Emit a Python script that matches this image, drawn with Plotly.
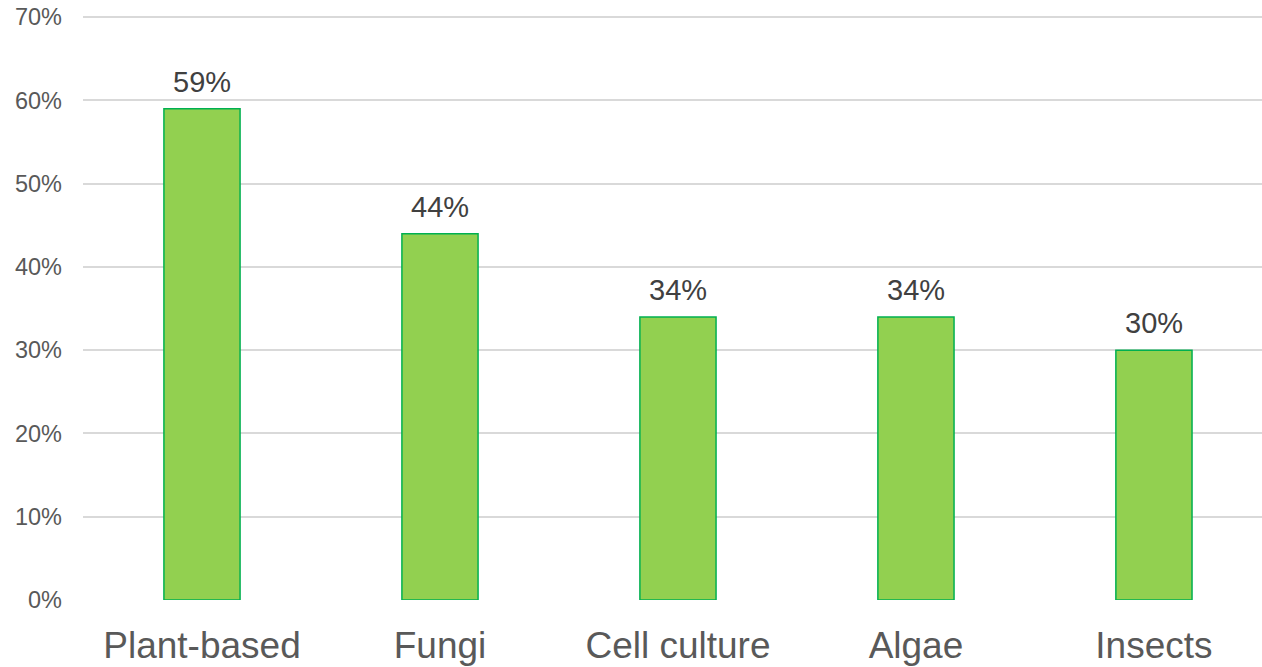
import plotly.graph_objects as go

# Share of respondents interested in each alternative protein source
categories = ["Plant-based", "Fungi", "Cell culture", "Algae", "Insects"]
shares = [59, 44, 34, 34, 30]
y_ticks = [0, 10, 20, 30, 40, 50, 60, 70]
y_tick_labels = [f"{v}%" for v in y_ticks]

FONT = "Liberation Sans, Arial, sans-serif"

fig = go.Figure(
    go.Bar(
        x=categories,
        y=shares,
        width=0.32,
        marker=dict(color="#92D050", line=dict(color="#00B050", width=1.5)),
        hoverinfo="skip",
    )
)

# value labels above each bar
for cat, val in zip(categories, shares):
    fig.add_annotation(
        x=cat, y=val, text=f"{val}%",
        showarrow=False, yanchor="bottom", yshift=9,
        font=dict(family=FONT, size=29, color="#404040"),
    )

fig.update_layout(
    width=1262, height=667,
    margin=dict(l=83, r=0, t=13, b=67),
    paper_bgcolor="white", plot_bgcolor="white",
    showlegend=False,
    font=dict(family=FONT),
)

fig.update_xaxes(
    range=[-0.5, 4.454],
    showgrid=False, showline=False, zeroline=False,
    ticks="", ticklabelstandoff=20,
    tickfont=dict(family=FONT, size=37, color="#595959"),
)

# range extends a little past 70 so the top gridline is drawn
fig.update_yaxes(
    range=[0, 70.5],
    tickvals=y_ticks, ticktext=y_tick_labels,
    showgrid=True, gridcolor="#D9D9D9", gridwidth=1.5,
    zeroline=False, showline=False,
    ticks="", ticklabelstandoff=20,
    tickfont=dict(family=FONT, size=23.5, color="#595959"),
)

fig.write_html("out.html")
